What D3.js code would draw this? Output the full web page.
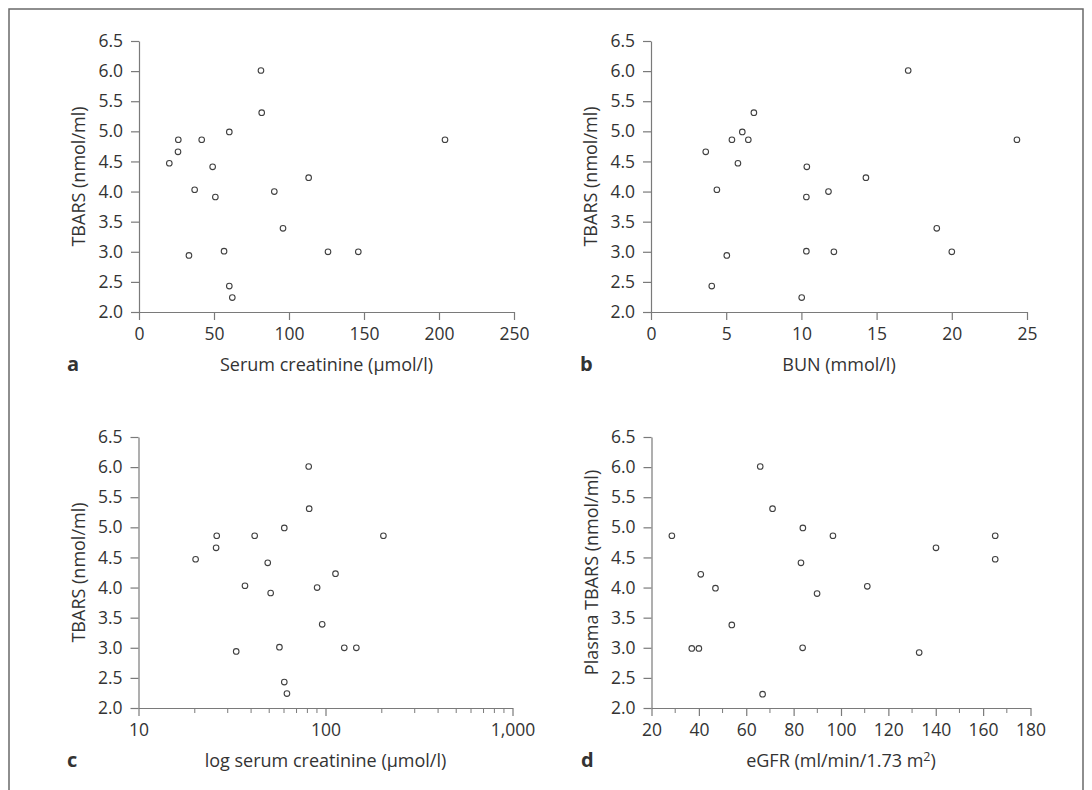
<!DOCTYPE html>
<html><head><meta charset="utf-8">
<script src="https://cdn.jsdelivr.net/npm/d3@7"></script>
<style>
body{margin:0;background:#fff;}
text{font-family:"Open Sans","Noto Sans",sans-serif;fill:#333;}
</style></head>
<body>
<svg id="chart" width="1092" height="790"></svg>
<script>
// ---- data ----
const creatinine = [81.3, 81.8, 60.2, 26.2, 41.8, 26.0, 20.2, 49.1, 204, 113.1, 37.1, 90.2, 50.9, 96.0, 56.7, 33.3, 126, 146.2, 60.2, 62.2];
const creatTbars = [6.01, 5.31, 4.99, 4.86, 4.86, 4.66, 4.47, 4.41, 4.86, 4.23, 4.03, 4.00, 3.91, 3.39, 3.01, 2.94, 3.00, 3.00, 2.43, 2.24];
const bun = [17.1, 6.84, 6.07, 5.38, 6.47, 3.64, 5.78, 10.36, 4.38, 14.29, 10.33, 11.8, 19.0, 5.04, 10.33, 12.16, 20.0, 4.04, 10.02, 24.33];
const bunTbars = [6.01, 5.31, 4.99, 4.86, 4.86, 4.66, 4.47, 4.41, 4.03, 4.23, 3.91, 4.00, 3.39, 2.94, 3.01, 3.00, 3.00, 2.43, 2.24, 4.86];
const egfr = [65.9, 71.1, 83.9, 28.6, 96.6, 165.1, 140.1, 165.1, 83.1, 40.8, 47.0, 111.1, 89.9, 53.9, 37.0, 40.0, 83.8, 133.0, 66.9];
const egfrTbars = [6.01, 5.31, 4.99, 4.86, 4.86, 4.86, 4.66, 4.47, 4.41, 4.22, 3.99, 4.02, 3.90, 3.38, 2.99, 2.99, 3.00, 2.92, 2.23];

const yTicks = [2.0, 2.5, 3.0, 3.5, 4.0, 4.5, 5.0, 5.5, 6.0, 6.5];
const xTicksA = [0, 50, 100, 150, 200, 250];
const xTicksB = [0, 5, 10, 15, 20, 25];
const xTicksC = [10, 100, 1000];
const xMinorC = [20, 30, 40, 50, 60, 70, 80, 90, 200, 300, 400, 500, 600, 700, 800, 900];
const xTicksD = [20, 40, 60, 80, 100, 120, 140, 160, 180];
const xMinorD = [30, 50, 70, 90, 110, 130, 150, 170];

const svg = d3.select("#chart");
const axisColor = "#7a7a7a";

// outer frame
svg.append("path").attr("d", "M9,792 L9,9 L1083,9 L1083,792")
  .attr("fill", "none").attr("stroke", "#6a6a6a").attr("stroke-width", 1.5);

function panel(o) {
  const g = svg.append("g");
  const y = d3.scaleLinear().domain([2, 6.5]).range([o.y0, o.y1]);
  const x = (o.log ? d3.scaleLog() : d3.scaleLinear()).domain(o.xDomain).range([o.x0, o.x1]);

  // minor ticks
  if (o.minor) {
    g.append("g").selectAll("line").data(o.minor).join("line")
      .attr("x1", d => x(d)).attr("x2", d => x(d))
      .attr("y1", o.y0).attr("y2", o.y0 + 5)
      .attr("stroke", axisColor).attr("stroke-width", 1);
  }
  const xa = g.append("g").attr("transform", `translate(0,${o.y0})`)
    .call(d3.axisBottom(x).tickValues(o.xTicks).tickSize(8).tickSizeOuter(0).tickPadding(8)
      .tickFormat(o.xFormat || d3.format("d")));
  const ya = g.append("g").attr("transform", `translate(${o.x0},0)`)
    .call(d3.axisLeft(y).tickValues(yTicks).tickSize(8).tickSizeOuter(0).tickPadding(8)
      .tickFormat(d3.format(".1f")));
  [xa, ya].forEach(a => {
    a.select(".domain").attr("stroke", axisColor).attr("stroke-width", 1.2);
    a.selectAll(".tick line").attr("stroke", axisColor).attr("stroke-width", 1.2);
    a.selectAll(".tick text").attr("font-size", 17.5).attr("fill", "#333")
      .attr("font-family", '"Open Sans","Noto Sans",sans-serif');
  });

  // points
  g.append("g").selectAll("circle").data(o.xs.map((d, i) => [d, o.ys[i]])).join("circle")
    .attr("cx", d => x(d[0])).attr("cy", d => y(d[1])).attr("r", 2.8)
    .attr("fill", "#fff").attr("stroke", "#404040").attr("stroke-width", 1.1);

  // y title
  g.append("text").attr("transform", `translate(${o.x0 - 60},${(o.y0 + o.y1) / 2}) rotate(-90)`)
    .attr("text-anchor", "middle").attr("dy", "0.35em").attr("font-size", 18).text(o.yTitle);
  // x title
  const xt = g.append("text").attr("x", (o.x0 + o.x1) / 2).attr("y", o.titleY)
    .attr("text-anchor", "middle").attr("font-size", 18);
  if (o.xTitleSup) {
    xt.append("tspan").text(o.xTitle);
    xt.append("tspan").attr("dy", -6).attr("font-size", 12.5).text(o.xTitleSup);
    xt.append("tspan").attr("dy", 6).text(")");
  } else xt.text(o.xTitle);
  // panel letter
  g.append("text").attr("x", o.letterX).attr("y", o.titleY).attr("font-size", 20)
    .attr("font-weight", "bold").attr("fill", "#222").text(o.letter);
}

panel({x0: 139, x1: 514, y0: 312, y1: 41, xDomain: [0, 250], xTicks: xTicksA,
  xs: creatinine, ys: creatTbars, yTitle: "TBARS (nmol/ml)", xTitle: "Serum creatinine (µmol/l)",
  titleY: 371, letter: "a", letterX: 67});
panel({x0: 651, x1: 1027, y0: 312, y1: 41, xDomain: [0, 25], xTicks: xTicksB,
  xs: bun, ys: bunTbars, yTitle: "TBARS (nmol/ml)", xTitle: "BUN (mmol/l)",
  titleY: 371, letter: "b", letterX: 580});
panel({x0: 138.5, x1: 512.5, y0: 708, y1: 437, xDomain: [10, 1000], log: true, xTicks: xTicksC, minor: xMinorC,
  xFormat: d3.format(",d"),
  xs: creatinine, ys: creatTbars, yTitle: "TBARS (nmol/ml)", xTitle: "log serum creatinine (µmol/l)",
  titleY: 767, letter: "c", letterX: 67});
panel({x0: 651.5, x1: 1030.5, y0: 708, y1: 437, xDomain: [20, 180], xTicks: xTicksD, minor: xMinorD,
  xs: egfr, ys: egfrTbars, yTitle: "Plasma TBARS (nmol/ml)", xTitle: "eGFR (ml/min/1.73 m", xTitleSup: "2",
  titleY: 767, letter: "d", letterX: 581});
</script>
</body></html>
